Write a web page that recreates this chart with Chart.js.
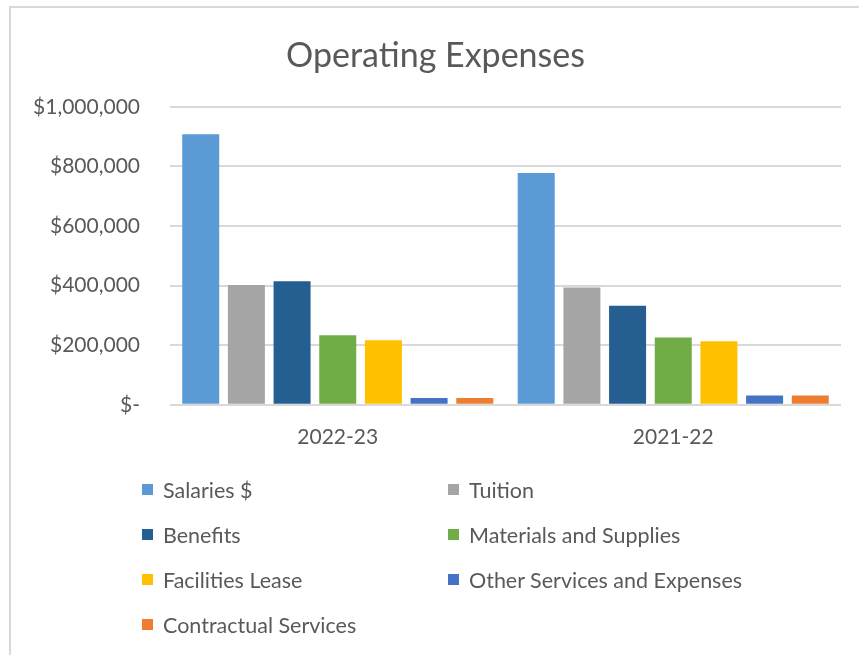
<!DOCTYPE html>
<html>
<head>
<meta charset="utf-8">
<script src="https://cdn.jsdelivr.net/npm/chart.js@4"></script>
<style>
  html, body { margin: 0; padding: 0; background: #fff; }
  body { width: 859px; height: 655px; position: relative; overflow: hidden; font-family: Lato, "Open Sans", sans-serif; }
  #marco { position: absolute; left: 9px; top: 6px; width: 900px; height: 700px; border-left: 2px solid #d9d9d9; border-top: 2px solid #d9d9d9; }
  #grafico { position: absolute; left: 0; top: 0; width: 859px; height: 476px; }
  #leyenda { position: absolute; left: 142px; top: 467px; display: grid; grid-template-columns: 306px auto; grid-auto-rows: 45px; }
  .item { display: flex; align-items: center; font-size: 21.5px; color: #595959; white-space: nowrap; }
  .item span.caja { width: 11px; height: 11px; margin-right: 10px; flex: none; }
</style>
</head>
<body>
<div id="marco"></div>
<div id="grafico"><canvas id="chart-gastos"></canvas></div>
<div id="leyenda"></div>

<script>
// Datos
const anios = ['2022-23', '2021-22'];
const series = ['Salaries $', 'Tuition', 'Benefits', 'Materials and Supplies', 'Facilities Lease', 'Other Services and Expenses', 'Contractual Services'];
const salarios = [908000, 778000];
const matricula = [402000, 394000];
const beneficios = [415000, 332000];
const materiales = [233000, 226000];
const alquiler = [217000, 213000];
const otros = [23000, 31000];
const contratos = [23000, 31000];
const ticksY = [0, 200000, 400000, 600000, 800000, 1000000];

const valores = [salarios, matricula, beneficios, materiales, alquiler, otros, contratos];
const colores = ['#5B9BD5', '#A5A5A5', '#255E91', '#70AD47', '#FFC000', '#4472C4', '#ED7D31'];

const gris = '#595959';

function formatoDinero(v) {
    if (v === 0) return '$-';
    return '$' + v.toLocaleString('en-US');
}

const ctx = document.getElementById('chart-gastos').getContext('2d');

const chartData = {
    labels: anios,
    datasets: series.map((nombre, i) => ({
        label: nombre,
        data: valores[i],
        backgroundColor: colores[i],
        borderWidth: 0,
        barPercentage: 0.81,
        categoryPercentage: 0.953
    }))
};

const opciones = {
    responsive: true,
    maintainAspectRatio: false,
    animation: false,
    layout: { padding: { left: 30, right: 18, top: 0, bottom: 6 } },
    plugins: {
        legend: { display: false },
        tooltip: { enabled: false },
        title: {
            display: true,
            text: 'Operating Expenses',
            color: gris,
            font: { family: 'Lato', size: 34, weight: 'normal' },
            padding: { top: 36, bottom: 30 }
        }
    },
    scales: {
        x: {
            grid: { display: false, drawTicks: false },
            border: { display: false },
            ticks: { color: gris, font: { family: 'Lato', size: 21 }, padding: 20 }
        },
        y: {
            min: 0,
            max: 1000000,
            afterBuildTicks: (scale) => { scale.ticks = ticksY.map(v => ({ value: v })); },
            afterFit: (scale) => { scale.width = 140; },
            grid: { color: '#d9d9d9', lineWidth: 2, drawTicks: false },
            border: { display: false },
            ticks: { color: gris, font: { family: 'Lato', size: 21 }, padding: 30, callback: formatoDinero }
        }
    }
};

const grafico = new Chart(ctx, {
    type: 'bar',
    data: chartData,
    options: opciones
});

// Leyenda en dos columnas como en el original
let contenido = '';
grafico.data.datasets.forEach(ds => {
    contenido += `<div class="item"><span class="caja" style="background:${ds.backgroundColor}"></span>${ds.label}</div>`;
});
document.getElementById('leyenda').innerHTML = contenido;
</script>
</body>
</html>
